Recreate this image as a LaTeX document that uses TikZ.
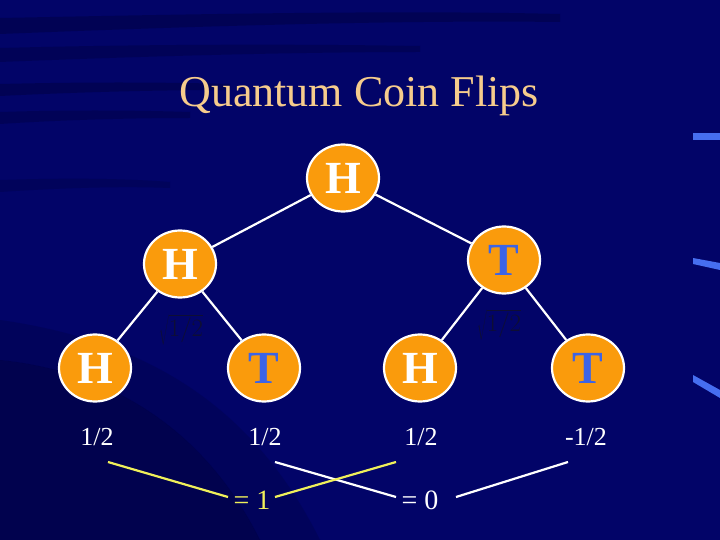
\documentclass[tikz,border=0pt]{standalone}
\usepackage{fontspec}
\setmainfont{Liberation Serif}
\usetikzlibrary{shapes.geometric}
\definecolor{bgblue}{RGB}{2,4,104}
\definecolor{darkstreak}{RGB}{0,0,40}
\definecolor{coin}{RGB}{250,155,12}
\definecolor{tblue}{RGB}{60,100,230}
\definecolor{titlec}{RGB}{246,204,140}
\definecolor{lineyel}{RGB}{240,240,90}
\definecolor{sqrtc}{RGB}{14,14,52}
\definecolor{glow}{RGB}{70,110,240}
\tikzset{
  coinnode/.style={ellipse, fill=coin, draw=white, line width=2.2pt, minimum width=72pt, minimum height=67pt, inner sep=0pt, font=\fontsize{46}{46}\selectfont\bfseries},
  hface/.style={coinnode, text=white},
  tface/.style={coinnode, text=tblue},
  branch/.style={draw=white, line width=2.2pt},
  prob/.style={text=white, font=\fontsize{26}{26}\selectfont},
  rootlab/.style={text=sqrtc, font=\fontsize{28}{28}\selectfont},
  ylink/.style={draw=lineyel, line width=2.2pt},
  wlink/.style={draw=white, line width=2.2pt}
}
\begin{document}
\begin{tikzpicture}[x=1pt,y=-1pt]
\useasboundingbox (0,0) rectangle (720,540);
\fill[bgblue] (0,0) rectangle (720,540);
% dark streaks
\fill[darkstreak, opacity=0.3] (0,18) .. controls (200,14) and (400,10) .. (560,14) -- (560,22) .. controls (400,20) and (200,26) .. (0,34) -- cycle;
\fill[darkstreak, opacity=0.25] (0,48) .. controls (150,44) and (300,44) .. (420,46) -- (420,52) .. controls (300,52) and (150,56) .. (0,62) -- cycle;
\fill[darkstreak, opacity=0.3] (0,84) .. controls (80,82) and (160,82) .. (230,84) -- (230,90) .. controls (160,90) and (80,92) .. (0,96) -- cycle;
\fill[darkstreak, opacity=0.25] (0,112) .. controls (60,110) and (130,110) .. (190,112) -- (190,118) .. controls (130,118) and (60,120) .. (0,124) -- cycle;
\fill[darkstreak, opacity=0.2] (0,180) .. controls (60,178) and (120,178) .. (170,182) -- (170,188) .. controls (120,186) and (60,188) .. (0,192) -- cycle;
\fill[darkstreak, opacity=0.4] (0,360) .. controls (100,370) and (200,420) .. (260,540) -- (0,540) -- cycle;
\fill[darkstreak, opacity=0.2] (260,540) .. controls (200,420) and (100,370) .. (0,360) -- (0,320) .. controls (140,340) and (250,400) .. (320,540) -- cycle;
% right glows
\fill[glow] (693,133) rectangle (720,140);
\fill[glow] (693,258) -- (720,263) -- (720,270) -- (693,264) -- cycle;
\fill[glow] (693,375) -- (720,390) -- (720,398) -- (693,382) -- cycle;
% title
\node[text=titlec, font=\fontsize{44}{44}\selectfont] (title) at (359,96) {Quantum Coin Flips};
% coins
\node[hface] (root) at (343,178) {H};
\node[hface] (h1) at (180,264) {H};
\node[tface] (t1) at (504,260) {T};
\node[hface] (hh) at (95,368) {H};
\node[tface] (ht) at (264,368) {T};
\node[hface] (th) at (420,368) {H};
\node[tface] (tt) at (588,368) {T};
% branches
\draw[branch] (root) -- (h1);
\draw[branch] (root) -- (t1);
\draw[branch] (h1) -- (hh);
\draw[branch] (h1) -- (ht);
\draw[branch] (t1) -- (th);
\draw[branch] (t1) -- (tt);
% sqrt labels
\node[rootlab] (s1) at (181,330) {$\sqrt{1/2}$};
\node[rootlab] (s2) at (499,325) {$\sqrt{1/2}$};
% probabilities
\node[prob] (p1) at (97,437) {1/2};
\node[prob] (p2) at (265,437) {1/2};
\node[prob] (p3) at (421,437) {1/2};
\node[prob] (p4) at (586,437) {-1/2};
% sums
\node[text=lineyel, font=\fontsize{28}{28}\selectfont] (eq1) at (252,500) {= 1};
\node[text=white, font=\fontsize{28}{28}\selectfont] (eq0) at (420,500) {= 0};
\coordinate (a1) at (108,462);
\coordinate (a2) at (228,497);
\coordinate (b1) at (275,497);
\coordinate (b2) at (396,462);
\coordinate (c1) at (275,462);
\coordinate (c2) at (396,497);
\coordinate (d1) at (456,497);
\coordinate (d2) at (568,462);
\draw[ylink] (a1) -- (a2);
\draw[wlink] (c1) -- (c2);
\draw[ylink] (b1) -- (b2);
\draw[wlink] (d1) -- (d2);
\end{tikzpicture}
\end{document}
